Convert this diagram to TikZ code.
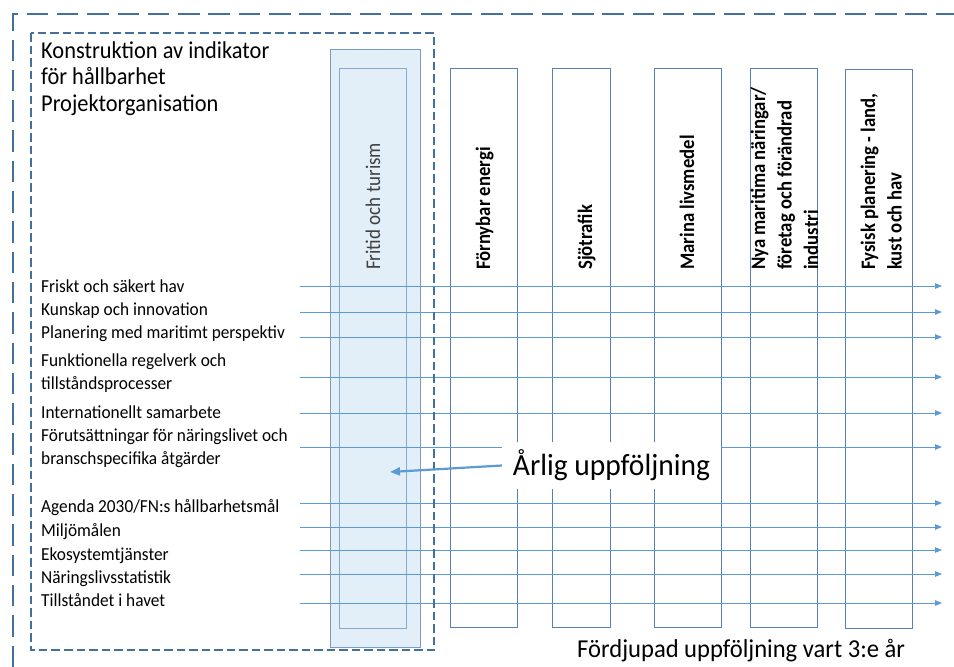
\documentclass[tikz,border=0pt]{standalone}
\usepackage{fontspec}
\usepackage{graphicx}
\setmainfont{Carlito}
\usetikzlibrary{arrows.meta}

\definecolor{frameblue}{HTML}{41719C}
\definecolor{flowblue}{HTML}{5B9BD5}
\definecolor{colline}{HTML}{5482B6}
\definecolor{shadefill}{HTML}{E2EFF8}
\definecolor{shadeline}{HTML}{7C9CBF}
\definecolor{shadeinner}{HTML}{86A9CC}
\definecolor{softtext}{HTML}{404040}

% stacked lines whose first baseline is the node baseline
\newcommand{\stacklines}[1]{\vtop{\halign{##\hfil\cr#1\crcr}}}
% slightly taller lettering
\newcommand{\tall}[2]{\scalebox{1}[#1]{#2}}

\begin{document}
\begin{tikzpicture}[x=1pt,y=-1pt,
  outerdash/.style={draw=frameblue, line width=2.7pt, dash pattern=on 21.5pt off 8.8pt},
  innerdash/.style={draw=frameblue, line width=2.2pt, dash pattern=on 8.5pt off 4pt},
  colbox/.style={draw=colline, line width=1pt, anchor=north west, inner sep=0pt},
  collab/.style={rotate=90, anchor=base west, inner sep=0pt,
                 font=\bfseries\fontsize{18.7}{24.1}\selectfont},
  itemlab/.style={anchor=base west, inner sep=0pt, font=\fontsize{17.3}{21.3}\selectfont},
  flowarrow/.style={draw=flowblue, line width=1pt, -{Triangle[length=7pt,width=5.5pt]}},
  annualarrow/.style={draw=flowblue, line width=2.2pt, -{Triangle[length=10pt,width=8pt]}},
]
\useasboundingbox (0,0) rectangle (954,667);

% highlighted theme column
\node[colbox, fill=shadefill, draw=shadeline, minimum width=90pt, minimum height=598pt]
  (leisureOuter) at (330,49) {};
\node[colbox, draw=shadeinner, minimum width=67pt, minimum height=560pt]
  (leisure) at (339,68) {};

% theme columns
\node[colbox, minimum width=67pt, minimum height=559pt] (energy)   at (450,68) {};
\node[colbox, minimum width=58pt, minimum height=559pt] (shipping) at (552,68) {};
\node[colbox, minimum width=67pt, minimum height=559pt] (food)     at (654,68) {};
\node[colbox, minimum width=67pt, minimum height=559pt] (newind)   at (750,68) {};
\node[colbox, minimum width=67pt, minimum height=559pt] (planning) at (845,69) {};

% column headings
\node[collab, font=\fontsize{19}{22}\selectfont, text=softtext] (leisureT) at (380,270)
  {\tall{1.1}{Fritid och turism}};
\node[collab] (energyT)   at (490,270) {\tall{1.1}{Förnybar energi}};
\node[collab] (shippingT) at (592,270) {\tall{1.1}{Sjötrafik}};
\node[collab] (foodT)     at (694,270) {\tall{1.1}{Marina livsmedel}};
\node[collab] (newindT)   at (765,270)
  {\tall{1.1}{\stacklines{Nya maritima näringar/\cr företag och förändrad\cr industri}}};
\node[collab] (planningT) at (875,270)
  {\tall{1.1}{\stacklines{Fysisk planering - land,\cr kust och hav}}};

% heading of the organisation box
\node[anchor=base west, inner sep=0pt, font=\fontsize{22.4}{24.7}\selectfont] (title) at (41,58.3)
  {\tall{1.08}{\stacklines{Konstruktion av indikator\cr för hållbarhet\cr Projektorganisation}}};

% indicator areas
\node[itemlab] (i1)  at (41,292.7) {\tall{1.06}{Friskt och säkert hav}};
\node[itemlab] (i2)  at (41,315.7) {\tall{1.06}{Kunskap och innovation}};
\node[itemlab] (i3)  at (41,338.3) {\tall{1.06}{Planering med maritimt perspektiv}};
\node[itemlab] (i4)  at (41,366.7) {\tall{1.06}{\stacklines{Funktionella regelverk och\cr tillståndsprocesser}}};
\node[itemlab] (i5)  at (41,418.3) {\tall{1.06}{Internationellt samarbete}};
\node[itemlab] (i6)  at (41,441.7) {\tall{1.06}{\stacklines{Förutsättningar för näringslivet och\cr branschspecifika åtgärder}}};
\node[itemlab] (i7)  at (41,512.3) {\tall{1.06}{Agenda 2030/FN:s hållbarhetsmål}};
\node[itemlab] (i8)  at (41,536.7) {\tall{1.06}{Miljömålen}};
\node[itemlab] (i9)  at (41,560)   {\tall{1.06}{Ekosystemtjänster}};
\node[itemlab] (i10) at (41,583.3) {\tall{1.06}{Näringslivsstatistik}};
\node[itemlab] (i11) at (41,606)   {\tall{1.06}{Tillståndet i havet}};

% flows across all themes
\foreach \yy [count=\i] in {286,312,337,377,413,447,503,527,550,574,603} {
  \coordinate (from\i) at (300,\yy);
  \coordinate (to\i) at (942,\yy);
  \draw[flowarrow] (from\i) -- (to\i);
}

% frames
\draw[innerdash] (31,33) rectangle (434,650);
\draw[outerdash] (13,667) -- (13,14) -- (954,14);

% yearly follow-up
\node[fill=white, inner sep=0pt, minimum width=219pt, minimum height=47pt,
      font=\fontsize{29.5}{32}\selectfont] (annual) at (611.5,465.5)
  {\tall{1.04}{Årlig uppföljning}};
\coordinate (annualTip) at (390,472);
\draw[annualarrow] (annual.west) -- (annualTip);

% three-year follow-up
\node[anchor=base west, inner sep=0pt, font=\fontsize{24.6}{28}\selectfont] (deep) at (577,657)
  {\tall{1.05}{Fördjupad uppföljning vart 3:e år}};
\end{tikzpicture}
\end{document}
